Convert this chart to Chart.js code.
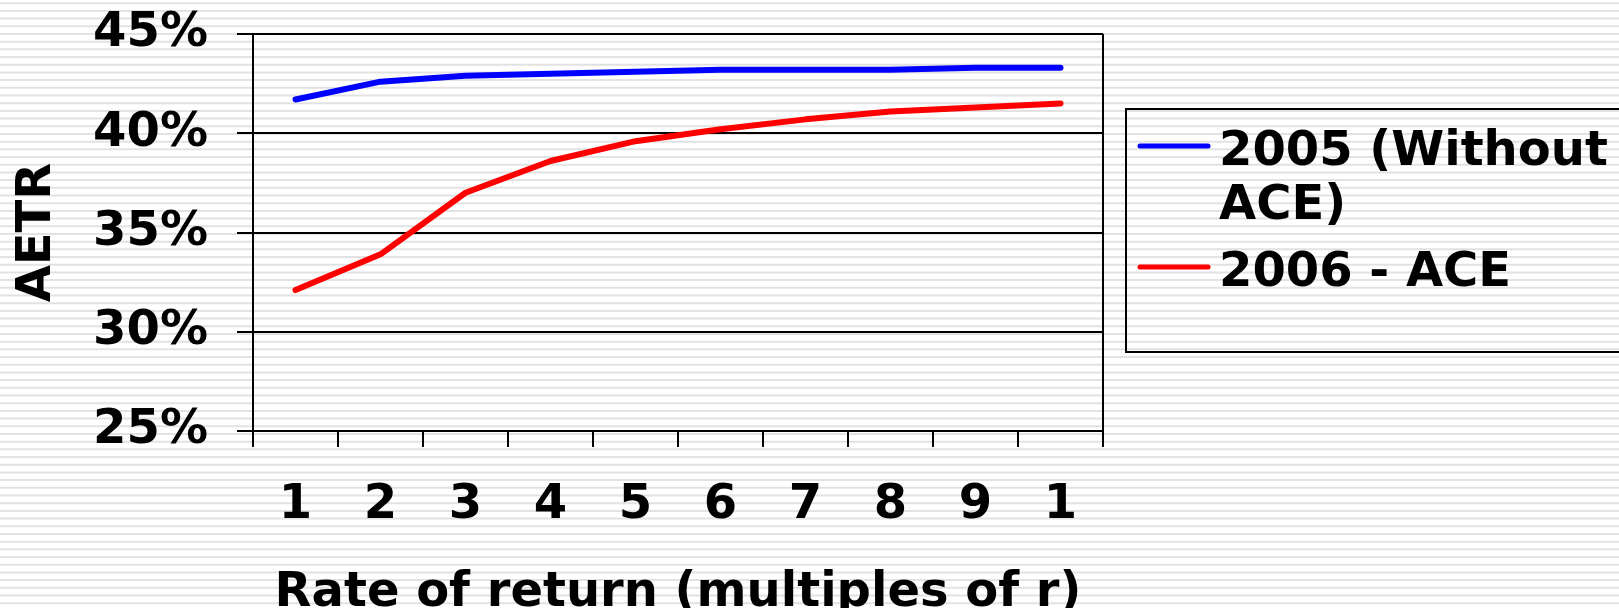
<!DOCTYPE html>
<html>
<head>
<meta charset="utf-8">
<script src="https://cdn.jsdelivr.net/npm/chart.js@4/dist/chart.umd.min.js"></script>
<style>
  body { margin: 0; background: #fff; }
  canvas { display: block; }
</style>
</head>
<body>
<canvas id="aetrChart" width="1619" height="608"></canvas>
<script>
// x categories (the last one is shown cut down to "1" in the original)
const categories = ['1', '2', '3', '4', '5', '6', '7', '8', '9', '1'];
// AETR in %
const aetr2005 = [41.7, 42.6, 42.9, 43.0, 43.1, 43.2, 43.2, 43.2, 43.3, 43.3];
const aetr2006 = [32.1, 33.9, 37.0, 38.6, 39.6, 40.2, 40.7, 41.1, 41.3, 41.5];
const seriesNames = [['2005 (Without', 'ACE)'], ['2006 - ACE']];
const yTicks = [25, 30, 35, 40, 45];

const bigFont = { family: 'DejaVu Sans', size: 48, weight: 'bold' };

// white page with thin grey horizontal stripes
const stripes = {
    id: 'stripes',
    beforeDraw(chart) {
        const ctx = chart.ctx;
        ctx.save();
        ctx.fillStyle = '#fff';
        ctx.fillRect(0, 0, chart.width, chart.height);
        ctx.strokeStyle = '#e2e2e2';
        ctx.lineWidth = 2;
        for (let y = 3.2; y < chart.height; y += 100 / 13) {
            ctx.beginPath();
            ctx.moveTo(0, y);
            ctx.lineTo(chart.width, y);
            ctx.stroke();
        }
        ctx.restore();
    }
};

// right side of the plot frame (the axes only draw left and bottom)
const plotBorder = {
    id: 'plotBorder',
    afterDatasetsDraw(chart) {
        const { ctx, chartArea: a } = chart;
        ctx.save();
        ctx.strokeStyle = '#000';
        ctx.lineWidth = 2;
        ctx.beginPath();
        ctx.moveTo(a.right, a.top);
        ctx.lineTo(a.right, a.bottom);
        ctx.stroke();
        ctx.restore();
    }
};

// legend in a framed box, wrapping the first label like the original
const boxLegend = {
    id: 'boxLegend',
    afterDraw(chart) {
        const ctx = chart.ctx;
        const bx = 1126, by = 109;
        ctx.save();
        ctx.strokeStyle = '#000';
        ctx.lineWidth = 2;
        ctx.strokeRect(bx, by, 520, 243);
        ctx.font = 'bold 48px "DejaVu Sans"';
        ctx.fillStyle = '#000';
        ctx.textBaseline = 'alphabetic';
        let base = by + 56;
        chart.data.datasets.forEach((ds, i) => {
            ctx.strokeStyle = ds.borderColor;
            ctx.lineWidth = 5;
            ctx.lineCap = 'round';
            ctx.beginPath();
            ctx.moveTo(bx + 14, base - 19);
            ctx.lineTo(bx + 82, base - 19);
            ctx.stroke();
            seriesNames[i].forEach((line, j) => {
                ctx.fillText(line, bx + 93, base + j * 54);
            });
            base += (seriesNames[i].length - 1) * 54 + 67;
        });
        ctx.restore();
    }
};

const ctx = document.getElementById('aetrChart').getContext('2d');
const chart = new Chart(ctx, {
    type: 'line',
    data: {
        labels: categories,
        datasets: [
            {
                label: seriesNames[0].join(' '),
                data: aetr2005,
                borderColor: '#0000ff',
                borderWidth: 6,
                borderCapStyle: 'round',
                borderJoinStyle: 'round',
                pointRadius: 0,
                tension: 0
            },
            {
                label: seriesNames[1].join(' '),
                data: aetr2006,
                borderColor: '#ff0000',
                borderWidth: 6,
                borderCapStyle: 'round',
                borderJoinStyle: 'round',
                pointRadius: 0,
                tension: 0
            }
        ]
    },
    options: {
        responsive: false,
        animation: false,
        devicePixelRatio: 1,
        layout: { padding: { top: 34, right: 516, bottom: 0, left: 0 } },
        plugins: {
            legend: { display: false },
            tooltip: { enabled: false }
        },
        scales: {
            x: {
                offset: true,
                grid: { offset: true, drawOnChartArea: false, color: '#000', lineWidth: 2, tickLength: 16 },
                border: { color: '#000', width: 2 },
                ticks: { color: '#000', font: bigFont, padding: 30, maxRotation: 0, autoSkip: false },
                title: {
                    display: true,
                    text: 'Rate of return (multiples of r)',
                    color: '#000',
                    font: { family: 'DejaVu Sans', size: 48, weight: 'bold', lineHeight: 0.6 },
                    padding: 0
                },
                afterFit: s => { s.height = 177; s.paddingLeft = 0; s.paddingRight = 0; }
            },
            y: {
                min: 25,
                max: 45,
                afterBuildTicks: s => { s.ticks = yTicks.map(v => ({ value: v })); },
                grid: { color: '#000', lineWidth: 2, tickLength: 16 },
                border: { color: '#000', width: 2 },
                ticks: { color: '#000', font: bigFont, padding: 29, callback: v => v + '%' },
                title: {
                    display: true,
                    text: 'AETR',
                    color: '#000',
                    font: bigFont,
                    padding: { top: 9, bottom: 0 }
                },
                afterFit: s => { s.width = 253; s.paddingTop = 0; s.paddingBottom = 0; }
            }
        }
    },
    plugins: [stripes, plotBorder, boxLegend]
});
</script>
</body>
</html>
